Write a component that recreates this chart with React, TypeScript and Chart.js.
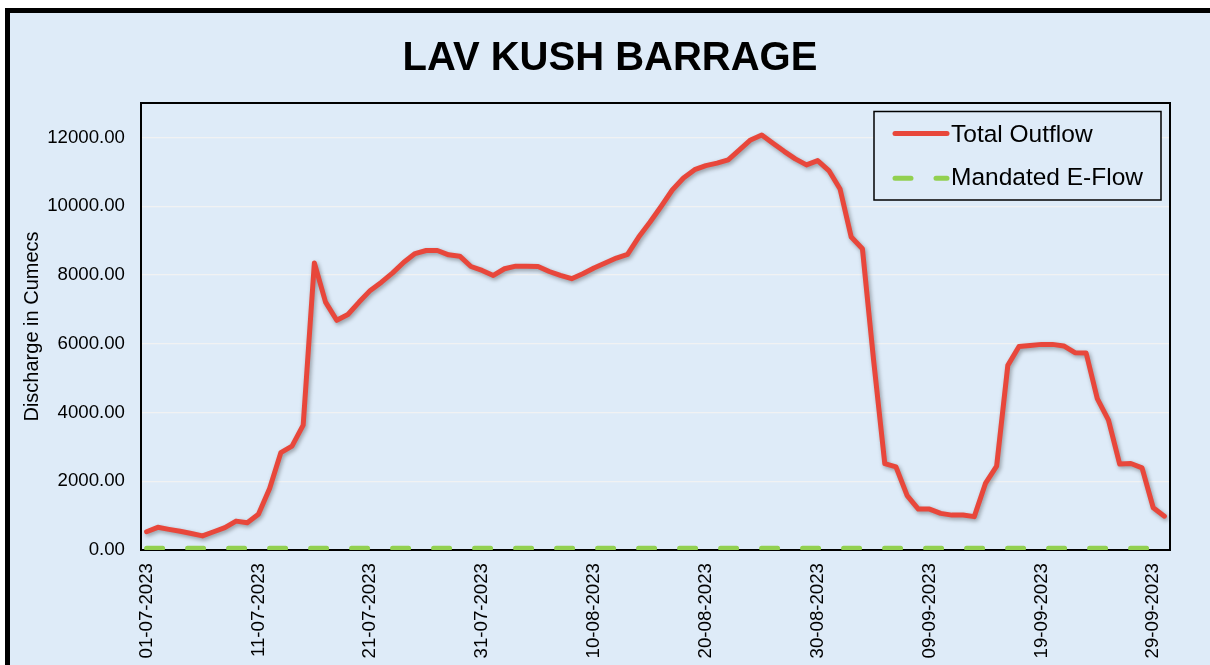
import React, { useEffect, useRef } from "react";
import { Chart, registerables } from "chart.js";

Chart.register(...registerables);

const dates: string[] = [
  "01-07-2023","02-07-2023","03-07-2023","04-07-2023","05-07-2023","06-07-2023","07-07-2023","08-07-2023","09-07-2023","10-07-2023",
  "11-07-2023","12-07-2023","13-07-2023","14-07-2023","15-07-2023","16-07-2023","17-07-2023","18-07-2023","19-07-2023","20-07-2023",
  "21-07-2023","22-07-2023","23-07-2023","24-07-2023","25-07-2023","26-07-2023","27-07-2023","28-07-2023","29-07-2023","30-07-2023",
  "31-07-2023","01-08-2023","02-08-2023","03-08-2023","04-08-2023","05-08-2023","06-08-2023","07-08-2023","08-08-2023","09-08-2023",
  "10-08-2023","11-08-2023","12-08-2023","13-08-2023","14-08-2023","15-08-2023","16-08-2023","17-08-2023","18-08-2023","19-08-2023",
  "20-08-2023","21-08-2023","22-08-2023","23-08-2023","24-08-2023","25-08-2023","26-08-2023","27-08-2023","28-08-2023","29-08-2023",
  "30-08-2023","31-08-2023","01-09-2023","02-09-2023","03-09-2023","04-09-2023","05-09-2023","06-09-2023","07-09-2023","08-09-2023",
  "09-09-2023","10-09-2023","11-09-2023","12-09-2023","13-09-2023","14-09-2023","15-09-2023","16-09-2023","17-09-2023","18-09-2023",
  "19-09-2023","20-09-2023","21-09-2023","22-09-2023","23-09-2023","24-09-2023","25-09-2023","26-09-2023","27-09-2023","28-09-2023",
  "29-09-2023","30-09-2023",
];

const totalOutflow: number[] = [
  530, 660, 600, 545, 480, 410, 530, 650, 840, 790,
  1040, 1790, 2830, 3020, 3630, 8350, 7210, 6680, 6850, 7210,
  7550, 7790, 8060, 8370, 8620, 8710, 8710, 8585, 8545, 8245,
  8130, 7985, 8180, 8255, 8255, 8245, 8100, 7985, 7890, 8035,
  8200, 8345, 8490, 8595, 9100, 9530, 9990, 10470, 10820, 11060,
  11180, 11250, 11345, 11635, 11925, 12070, 11830, 11595, 11375, 11200,
  11325, 11035, 10500, 9100, 8760, 5520, 2510, 2420, 1580, 1190,
  1190, 1065, 1015, 1015, 970, 1935, 2440, 5370, 5920, 5950,
  5980, 5980, 5935, 5740, 5730, 4405, 3775, 2500, 2515, 2390,
  1230, 985,
];

const mandatedEFlow: number[] = [
  50, 50, 50, 50, 50, 50, 50, 50, 50, 50,
  50, 50, 50, 50, 50, 50, 50, 50, 50, 50,
  50, 50, 50, 50, 50, 50, 50, 50, 50, 50,
  50, 50, 50, 50, 50, 50, 50, 50, 50, 50,
  50, 50, 50, 50, 50, 50, 50, 50, 50, 50,
  50, 50, 50, 50, 50, 50, 50, 50, 50, 50,
  50, 50, 50, 50, 50, 50, 50, 50, 50, 50,
  50, 50, 50, 50, 50, 50, 50, 50, 50, 50,
  50, 50, 50, 50, 50, 50, 50, 50, 50, 50,
  50, 50,
];

const yTickValues: number[] = [0, 2000, 4000, 6000, 8000, 10000, 12000];
const seriesNames = ["Total Outflow", "Mandated E-Flow"];
const chartTitle = "LAV KUSH BARRAGE";
const yAxisTitle = "Discharge in Cumecs";

const FONT = "'Liberation Sans', Arial, sans-serif";
const BG = "#DEEBF8";
const RED = "#E8473B";
const GREEN = "#92D050";

export default function App() {
  const canvasRef = useRef<HTMLCanvasElement | null>(null);

  useEffect(() => {
    const canvas = canvasRef.current;
    if (!canvas) return;

    const shadowPlugin = {
      id: "shadowPlugin",
      beforeDatasetDraw(chart: any, args: any) {
        if (args.index === 0) {
          const ctx = chart.ctx;
          ctx.save();
          ctx.shadowColor = "rgba(0,0,0,0.35)";
          ctx.shadowBlur = 4;
          ctx.shadowOffsetX = 1.5;
          ctx.shadowOffsetY = 2;
        }
      },
      afterDatasetDraw(chart: any, args: any) {
        if (args.index === 0) chart.ctx.restore();
      },
    };

    const framePlugin = {
      id: "framePlugin",
      beforeDatasetsDraw(chart: any) {
        const { ctx, chartArea: a } = chart;
        ctx.save();
        ctx.strokeStyle = "#000";
        ctx.lineWidth = 2;
        ctx.strokeRect(a.left, a.top, a.right - a.left, a.bottom - a.top);
        ctx.restore();
      },
    };

    const titleLegendPlugin = {
      id: "titleLegendPlugin",
      afterDraw(chart: any) {
        const ctx = chart.ctx;
        ctx.save();
        ctx.fillStyle = "#000";
        ctx.font = `bold 40px ${FONT}`;
        ctx.textAlign = "center";
        ctx.textBaseline = "alphabetic";
        ctx.fillText(chartTitle, 600, 56.5);

        const bx = 864, by = 98.5, bw = 287, bh = 88.5;
        ctx.fillStyle = BG;
        ctx.fillRect(bx, by, bw, bh);
        ctx.strokeStyle = "#000";
        ctx.lineWidth = 1.5;
        ctx.strokeRect(bx, by, bw, bh);

        const ds = chart.data.datasets;
        const rows = [
          { ly: 120.5, ty: 128.7 },
          { ly: 165.3, ty: 172 },
        ];
        rows.forEach((r, i) => {
          const d = ds[i];
          ctx.beginPath();
          ctx.strokeStyle = d.borderColor;
          ctx.lineWidth = 5;
          ctx.lineCap = "round";
          ctx.setLineDash(d.borderDash || []);
          ctx.moveTo(885, r.ly);
          ctx.lineTo(937, r.ly);
          ctx.stroke();
          ctx.setLineDash([]);
          ctx.fillStyle = "#000";
          ctx.font = `24.5px ${FONT}`;
          ctx.textAlign = "left";
          ctx.textBaseline = "alphabetic";
          ctx.fillText(d.label, 941, r.ty);
        });
        ctx.restore();
      },
    };

    const chart = new Chart(canvas, {
      type: "line",
      data: {
        labels: dates,
        datasets: [
          {
            label: seriesNames[0],
            data: totalOutflow,
            borderColor: RED,
            backgroundColor: RED,
            borderWidth: 5,
            pointRadius: 0,
            tension: 0,
            borderJoinStyle: "round",
            borderCapStyle: "round",
          },
          {
            label: seriesNames[1],
            data: mandatedEFlow,
            borderColor: GREEN,
            backgroundColor: GREEN,
            borderWidth: 5,
            borderDash: [16, 25],
            borderCapStyle: "round",
            pointRadius: 0,
            tension: 0,
          },
        ],
      },
      options: {
        responsive: false,
        animation: false,
        devicePixelRatio: 1,
        layout: { padding: { top: 90, left: 0, right: 40, bottom: 0 } },
        plugins: {
          legend: { display: false },
          title: { display: false },
          tooltip: { enabled: false },
        },
        scales: {
          x: {
            type: "category",
            offset: true,
            grid: { display: false, drawTicks: false },
            border: { display: false },
            afterFit(scale: any) {
              scale.height = 115;
            },
            ticks: {
              autoSkip: false,
              maxRotation: 90,
              minRotation: 90,
              padding: 13,
              color: "#000",
              font: { family: FONT, size: 18.67 },
              callback(_v: any, index: number) {
                return index % 10 === 0 ? dates[index] : "";
              },
            },
          },
          y: {
            type: "linear",
            min: 0,
            max: 13000,
            grid: { color: "#F1F2F3", lineWidth: 1.3, drawTicks: false },
            border: { display: false },
            afterBuildTicks(scale: any) {
              scale.ticks = yTickValues.map((v) => ({ value: v }));
            },
            afterFit(scale: any) {
              scale.width = 131;
            },
            ticks: {
              autoSkip: false,
              padding: 16,
              color: "#000",
              font: { family: FONT, size: 18.67 },
              callback(v: any) {
                return Number(v).toFixed(2);
              },
            },
            title: {
              display: true,
              text: yAxisTitle,
              color: "#000",
              font: { family: FONT, size: 20 },
              padding: { top: 10, bottom: 0 },
            },
          },
        },
      },
      plugins: [framePlugin, shadowPlugin, titleLegendPlugin],
    } as any);

    return () => chart.destroy();
  }, []);

  return (
    <div
      style={{
        position: "fixed",
        left: 5,
        top: 8,
        width: 1205,
        height: 657,
        boxSizing: "border-box",
        borderTop: "5px solid #000",
        borderLeft: "5px solid #000",
        background: BG,
        overflow: "hidden",
      }}
    >
      <canvas ref={canvasRef} width={1200} height={652} style={{ display: "block" }} />
    </div>
  );
}
